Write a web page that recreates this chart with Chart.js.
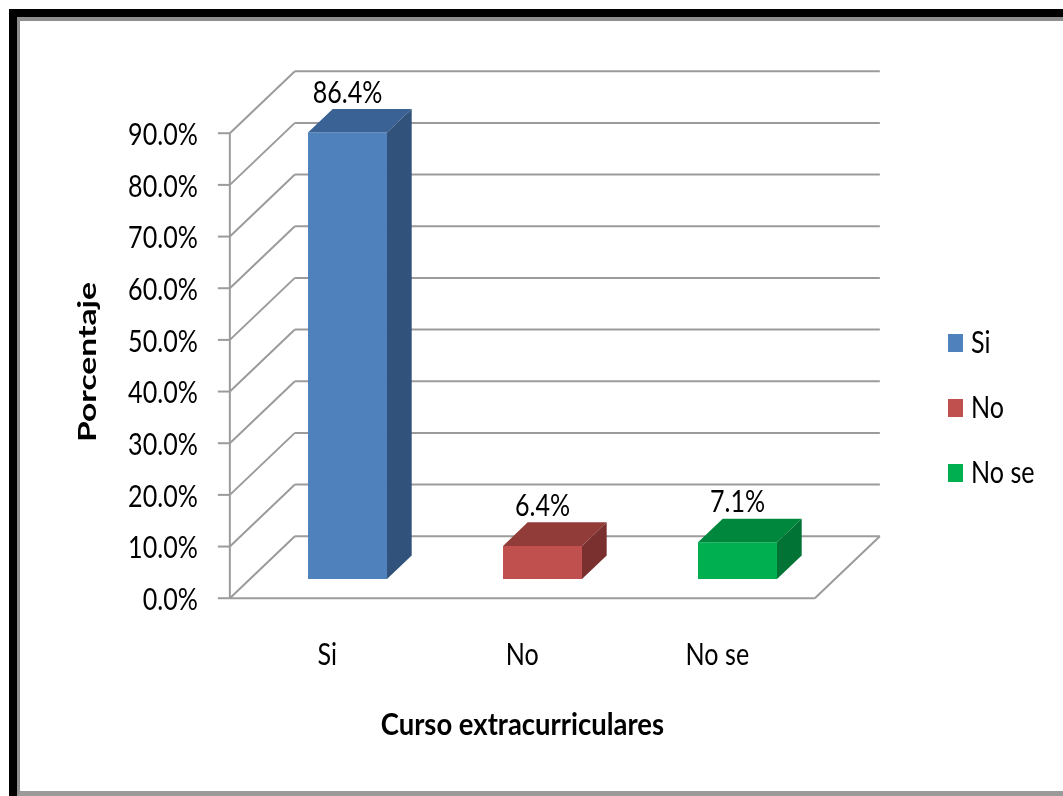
<!DOCTYPE html>
<html>
<head>
<meta charset="utf-8">
<title>Curso extracurriculares</title>
<script src="https://cdn.jsdelivr.net/npm/chart.js@4"></script>
<style>
  body { margin: 0; background: #fff; }
  #wrap { position: relative; width: 1063px; height: 796px; overflow: hidden; }
  #chart { position: absolute; left: 0; top: 0; }
  .frame-outer { position: absolute; left: 9px; top: 9px; right: -30px; bottom: -30px;
                 border-left: 8px solid #000; border-top: 8px solid #000; }
  .frame-inner { position: absolute; left: 17px; top: 17px; right: -30px; bottom: 0;
                 border-left: 3px solid #8e8e8e; border-top: 4px solid #8e8e8e; border-bottom: 5px solid #9a9a9a; }
</style>
</head>
<body>
<div id="wrap">
  <canvas id="chart" width="1063" height="796"></canvas>
  <div class="frame-outer"></div>
  <div class="frame-inner"></div>
</div>
<script>
// Data
const categories = ['Si', 'No', 'No se'];
const percentages = [86.4, 6.4, 7.1];
const axisMax = 90;
const axisStep = 10;

// Colours per column: front face, top face, side face
const frontColors = ['#4F81BD', '#C0504D', '#00B050'];
const topColors = ['#3B6295', '#923C3A', '#00873E'];
const sideColors = ['#31527B', '#7A302E', '#007335'];

const xTitle = 'Curso extracurriculares';
const yTitle = 'Porcentaje';

// 3D look: total depth of the floor / walls, and where the columns sit in it
const DEPTH_X = 65, DEPTH_Y = 62;
const BAR_FRONT = 0.31, BAR_BACK = 0.69;
const GRID = '#9b9b9b';
const FONT = 'Lato, "Noto Sans", sans-serif';
const SX = 0.93, SY = 1.12; // tall, narrow text

function fmtPct(v) { return v.toFixed(1) + '%'; }

function drawText(ctx, text, x, y, opts = {}) {
    ctx.save();
    ctx.translate(x, y);
    if (opts.rotate) ctx.rotate(opts.rotate);
    ctx.scale(opts.sx || SX, opts.sy || SY);
    ctx.font = opts.font || ('27px ' + FONT);
    ctx.fillStyle = opts.color || '#000';
    ctx.textAlign = opts.align || 'center';
    ctx.textBaseline = opts.baseline || 'middle';
    ctx.fillText(text, 0, 0);
    ctx.restore();
}

function line(ctx, x1, y1, x2, y2) {
    ctx.beginPath();
    ctx.moveTo(x1, y1);
    ctx.lineTo(x2, y2);
    ctx.stroke();
}

// Walls, floor and value axis behind the columns
const wallsPlugin = {
    id: 'walls',
    beforeDatasetsDraw(chart) {
        const { ctx, chartArea: a, scales: { x, y } } = chart;
        const fx = -BAR_FRONT * DEPTH_X, fy = BAR_FRONT * DEPTH_Y;
        const left = a.left + fx, right = a.right + fx;

        ctx.save();
        ctx.strokeStyle = GRID;
        ctx.lineWidth = 2;
        y.ticks.forEach(t => {
            const yf = y.getPixelForValue(t.value) + fy;
            const yb = yf - DEPTH_Y;
            line(ctx, left, yf, left + DEPTH_X, yb);               // side wall
            line(ctx, left + DEPTH_X, yb, right + DEPTH_X, yb);    // back wall
            line(ctx, left - 12, yf, left, yf);                    // tick mark
            drawText(ctx, fmtPct(t.value), left - 32, yf + 2, { align: 'right' });
        });
        const y0 = y.getPixelForValue(0) + fy;
        const yTop = y.getPixelForValue(axisMax) + fy;
        line(ctx, left, y0, left, yTop);                           // value axis
        line(ctx, left, y0, right, y0);                            // floor front edge
        line(ctx, right, y0, right + DEPTH_X, y0 - DEPTH_Y);       // floor right edge
        ctx.restore();

        // category labels and axis titles
        categories.forEach((c, i) => {
            drawText(ctx, c, x.getPixelForValue(i) + fx, 655);
        });
        drawText(ctx, xTitle, (left + right) / 2, 725, { font: 'bold 28px ' + FONT, sx: 0.98, sy: 1.1 });
        drawText(ctx, yTitle, 88, 362, { font: 'bold 28px ' + FONT, rotate: -Math.PI / 2, sx: 1.2, sy: 0.9 });
    },
    afterDatasetsDraw(chart) {
        const { ctx } = chart;
        const bdx = (BAR_BACK - BAR_FRONT) * DEPTH_X;
        const bdy = (BAR_BACK - BAR_FRONT) * DEPTH_Y;
        chart.getDatasetMeta(0).data.forEach((bar, i) => {
            const { x, y, base, width } = bar.getProps(['x', 'y', 'base', 'width'], true);
            const l = x - width / 2, r = x + width / 2;
            ctx.save();
            // top face
            ctx.fillStyle = topColors[i];
            ctx.beginPath();
            ctx.moveTo(l, y);
            ctx.lineTo(r, y);
            ctx.lineTo(r + bdx, y - bdy);
            ctx.lineTo(l + bdx, y - bdy);
            ctx.closePath();
            ctx.fill();
            // side face
            ctx.fillStyle = sideColors[i];
            ctx.beginPath();
            ctx.moveTo(r, y);
            ctx.lineTo(r + bdx, y - bdy);
            ctx.lineTo(r + bdx, base - bdy);
            ctx.lineTo(r, base);
            ctx.closePath();
            ctx.fill();
            ctx.restore();
            // value label
            drawText(ctx, fmtPct(percentages[i]), x, y - bdy - 1, { baseline: 'bottom' });
        });

        // legend
        categories.forEach((c, i) => {
            const ly = 343 + i * 65;
            ctx.fillStyle = frontColors[i];
            ctx.fillRect(948, ly - 9, 15, 18);
            drawText(ctx, c, 971, ly, { align: 'left' });
        });
    }
};

new Chart(document.getElementById('chart'), {
    type: 'bar',
    data: {
        labels: categories,
        datasets: [{
            data: percentages,
            backgroundColor: frontColors,
            borderWidth: 0,
            barPercentage: 0.405,
            categoryPercentage: 1
        }]
    },
    options: {
        responsive: false,
        animation: false,
        devicePixelRatio: 1,
        layout: { padding: { left: 250, top: 114, right: 228, bottom: 217 } },
        plugins: { legend: { display: false }, tooltip: { enabled: false } },
        scales: {
            x: { display: false },
            y: { display: false, min: 0, max: axisMax, ticks: { stepSize: axisStep } }
        }
    },
    plugins: [wallsPlugin]
});
</script>
</body>
</html>
